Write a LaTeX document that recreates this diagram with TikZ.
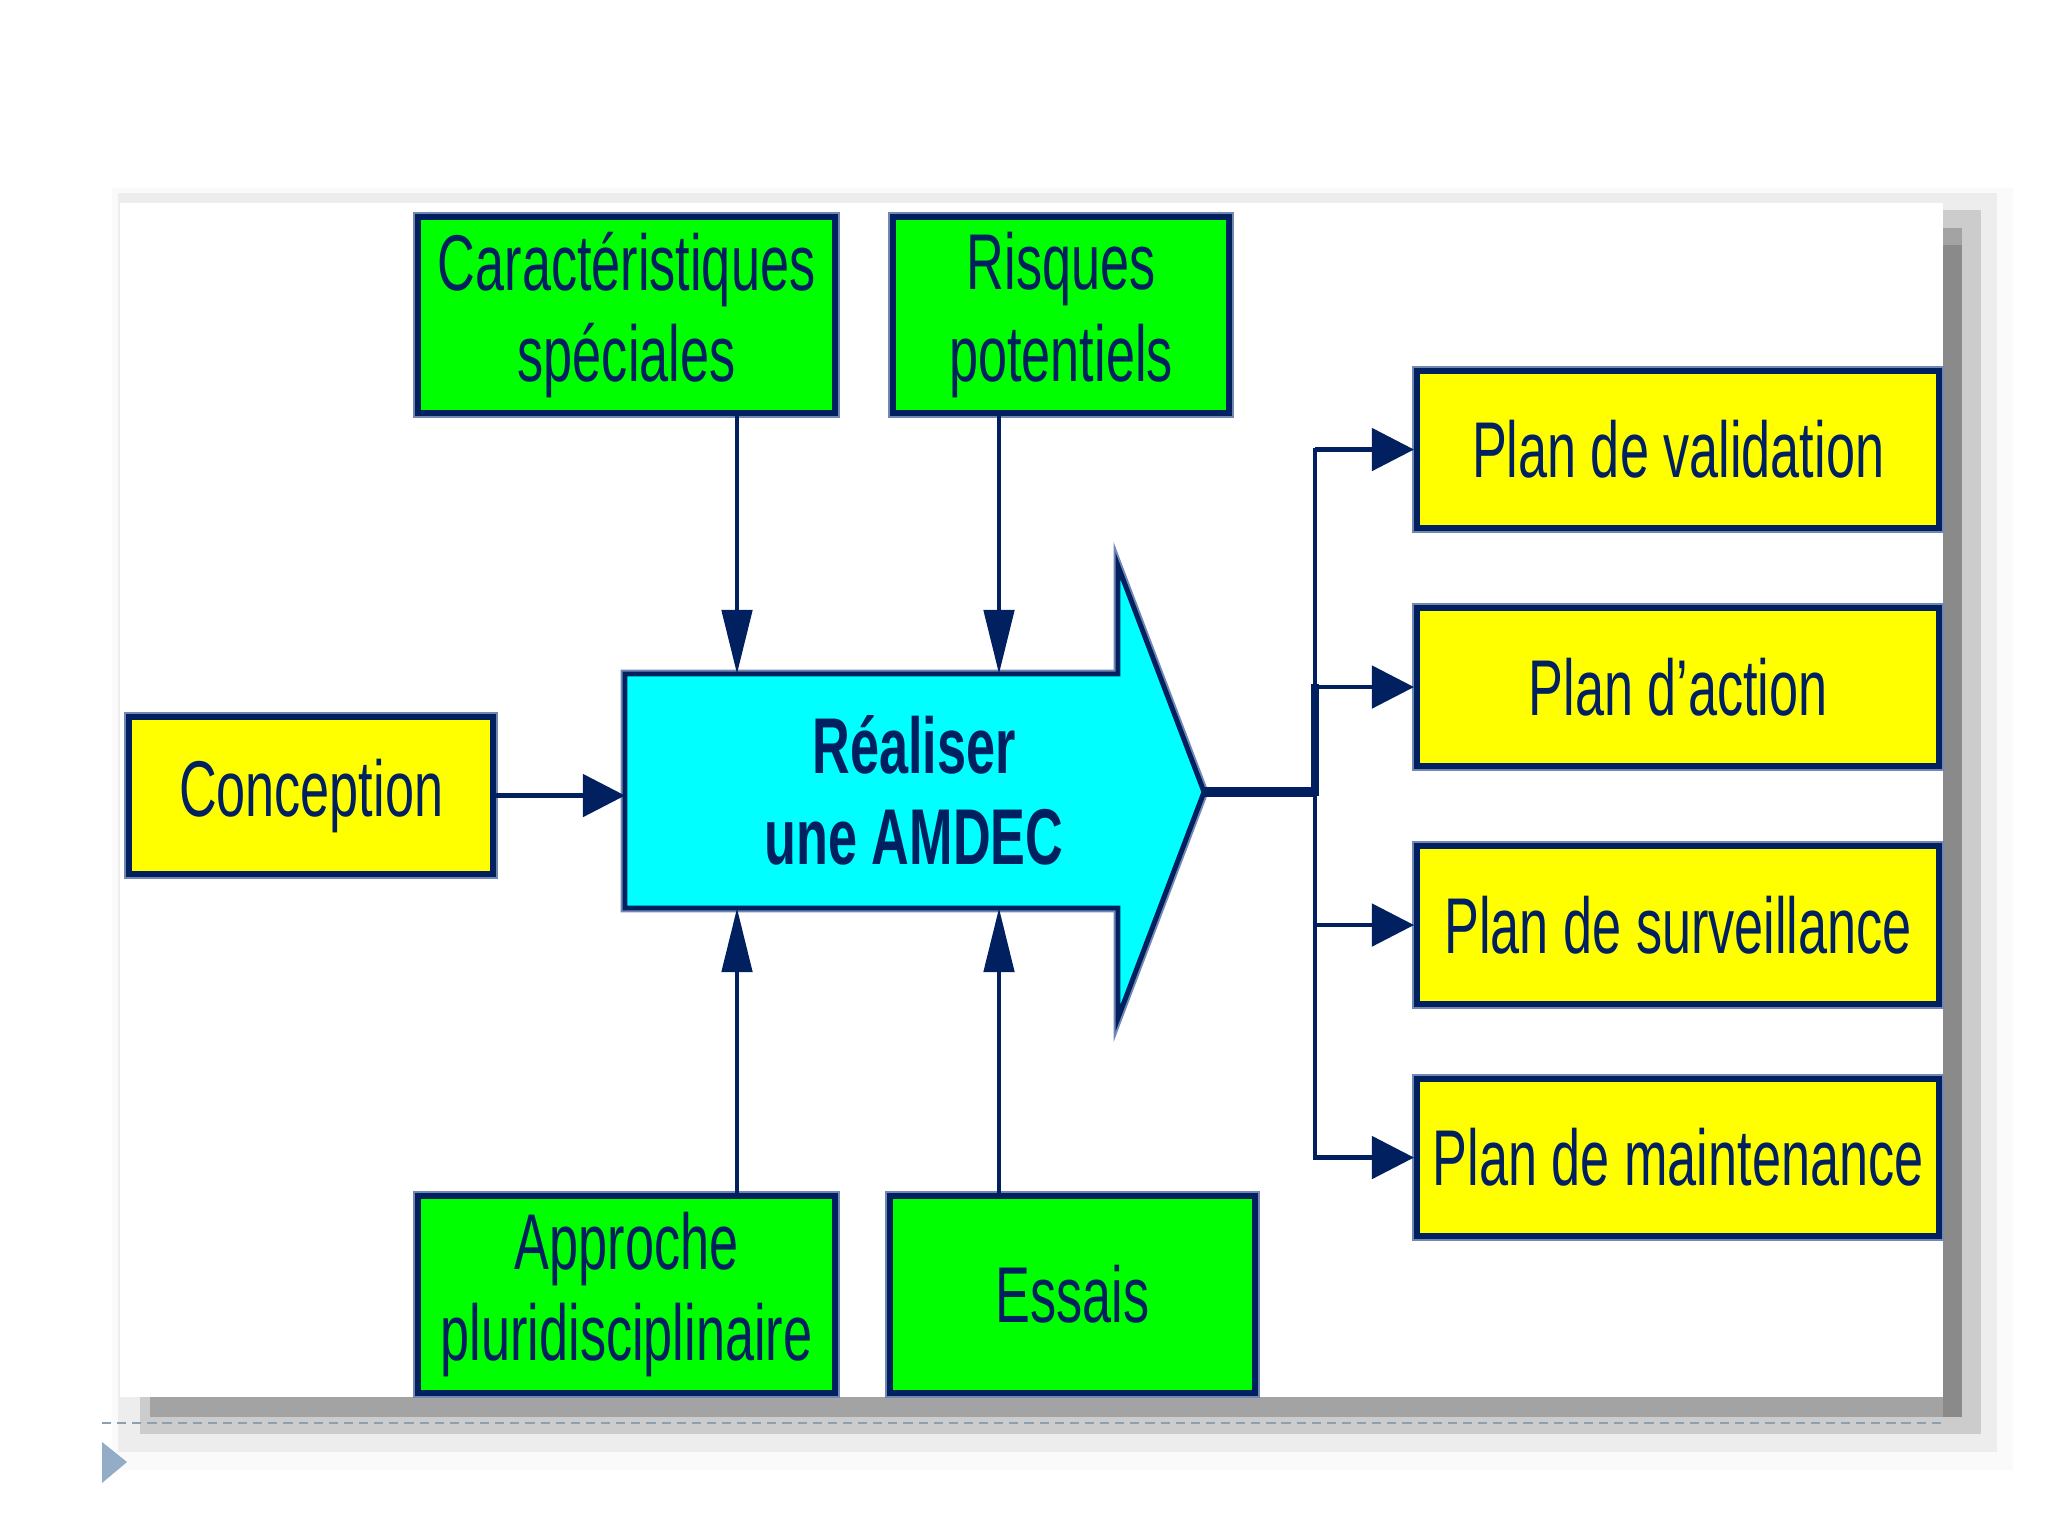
\documentclass[tikz,border=0pt]{standalone}
\usepackage{fontspec}
\setmainfont{Liberation Sans}[FakeStretch=0.66]
\usetikzlibrary{arrows.meta}
\definecolor{navy}{RGB}{0,32,96}
\definecolor{edgeblue}{RGB}{115,135,180}
\definecolor{boxgreen}{RGB}{0,255,0}
\definecolor{boxyellow}{RGB}{255,255,0}
\definecolor{boxcyan}{RGB}{0,255,255}
\definecolor{dashcol}{RGB}{140,160,175}
\definecolor{tricol}{RGB}{147,173,198}
\tikzset{
  boxbase/.style={draw=navy, line width=1.7pt, preaction={draw=edgeblue, line width=2.9pt},
    text=navy, align=center, font=\fontsize{22.5}{25.9}\selectfont, inner sep=0pt, anchor=north west},
  gbox/.style={boxbase, fill=boxgreen},
  ybox/.style={boxbase, fill=boxyellow},
  conn/.style={draw=navy, line width=1.35pt},
  varrow/.style={conn, -{Triangle[length=0.64cm,width=0.30cm]}},
  harrow/.style={conn, -{Triangle[length=0.42cm,width=0.42cm]}},
}
\begin{document}
\begin{tikzpicture}[x=0.01cm,y=-0.01cm]
\useasboundingbox[fill=white] (0,0) rectangle (2048,1536);
% panel glow and shadow
\fill[black!2] (112,188) rectangle (2013,1470);
\fill[black!7] (118,193) rectangle (1997,1452);
\fill[black!20] (140,210) rectangle (1981,1434);
\fill[black!36] (150,228) rectangle (1962,1417);
\fill[black!46] (1943,245) rectangle (1962,1417);
\fill[white] (120,203) rectangle (1943,1397);
\draw[dashcol, line width=0.57pt, dash pattern=on 2.6pt off 1.7pt] (102,1423) -- (1943,1423);
\fill[tricol] (102,1442) -- (127,1462) -- (102,1483) -- cycle;
% boxes
\node[gbox, minimum width=4.17cm, minimum height=1.96cm] (car) at (415,214) {Caractéristiques\\spéciales};
\node[gbox, minimum width=3.36cm, minimum height=1.96cm] (ris) at (890,214) {Risques\\potentiels};
\node[ybox, minimum width=3.64cm, minimum height=1.57cm] (con) at (126,714) {Conception};
\node[gbox, minimum width=4.17cm, minimum height=1.97cm] (app) at (415,1193) {Approche\\pluridisciplinaire};
\node[gbox, minimum width=3.65cm, minimum height=1.97cm] (ess) at (887,1193) {Essais};
\node[ybox, minimum width=5.22cm, minimum height=1.57cm] (val) at (1414,368) {Plan de validation};
\node[ybox, minimum width=5.22cm, minimum height=1.58cm] (act) at (1414,605) {Plan d’action};
\node[ybox, minimum width=5.22cm, minimum height=1.58cm] (sur) at (1414,843) {Plan de surveillance};
\node[ybox, minimum width=5.22cm, minimum height=1.57cm] (mai) at (1414,1076) {Plan de maintenance};
% big arrow
\draw[navy, line width=1.4pt, fill=boxcyan, preaction={draw=edgeblue, line width=2.5pt}]
  (625,674) -- (1118,674) -- (1118,566) -- (1204,792) -- (1118,1018) -- (1118,908) -- (625,908) -- cycle;
\node[text=navy, align=center, font=\fontsize{22.5}{25.9}\selectfont\bfseries] (amdec) at (914,790) {Réaliser\\une AMDEC};
\coordinate (tip) at (1204,792);
\coordinate (bodyL) at (625,790);
\coordinate (t1) at (737,674);
\coordinate (t2) at (999,674);
\coordinate (b1) at (737,908);
\coordinate (b2) at (999,908);
\coordinate (jn) at (1315,792);
% connectors
\draw[varrow] (car.south -| t1) -- (t1);
\draw[varrow] (ris.south -| t2) -- (t2);
\draw[varrow] (app.north -| b1) -- (b1);
\draw[varrow] (ess.north -| b2) -- (b2);
\draw[harrow] (con.east) -- (con.east -| bodyL);
\draw[conn, line width=1.15pt, line cap=rect] (jn |- val.west) -- (jn |- mai.west);
\draw[conn, line width=2pt, line cap=rect] (jn |- act.west) -- (jn);
\draw[conn, line width=2.85pt] (tip) -- (jn);
\foreach \n in {val,act,sur,mai} \draw[harrow] (jn |- \n.west) -- (\n.west);
\end{tikzpicture}
\end{document}
